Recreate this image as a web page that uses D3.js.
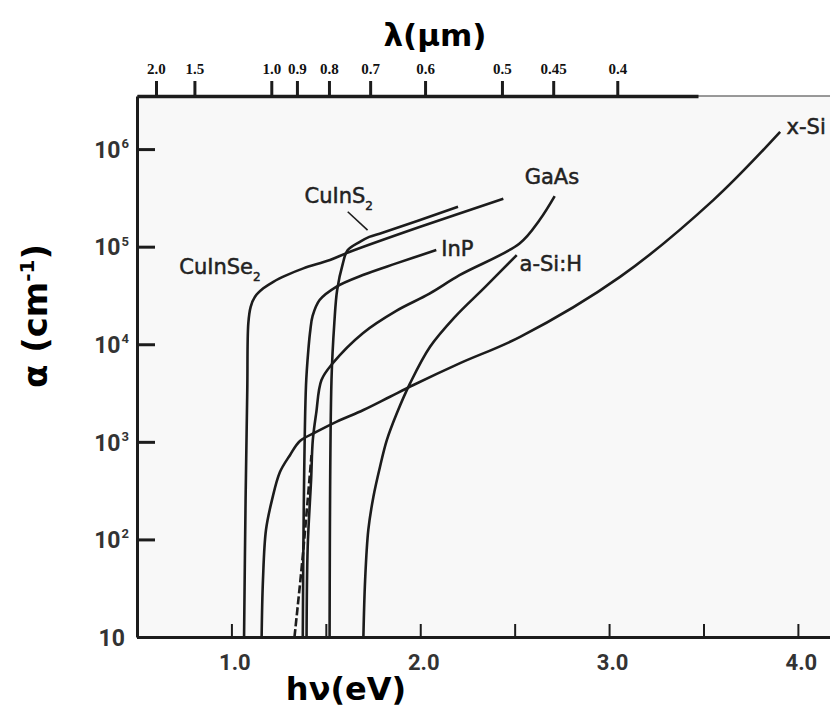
<!DOCTYPE html>
<html>
<head>
<meta charset="utf-8">
<script src="https://cdn.jsdelivr.net/npm/d3@7/dist/d3.min.js"></script>
<style>
body { margin: 0; background: #fff; }
</style>
</head>
<body>
<script>
// photon energy (eV) / absorption coefficient (cm^-1)
var cuInSe2E = [1.067, 1.075, 1.084, 1.0895, 1.102, 1.125, 1.169, 1.222, 1.293, 1.381, 1.522, 1.628, 2.00, 2.44];
var cuInSe2A = [10, 250, 3400, 16400, 24200, 30700, 37400, 43700, 51100, 59900, 73000, 88700, 160000, 310000];

var cuInS2E = [1.52, 1.53, 1.545, 1.56, 1.59, 1.615, 1.68, 1.73, 1.80, 2.20];
var cuInS2A = [10, 4300, 16500, 36000, 67000, 92000, 112000, 126000, 139000, 256000];

var inPE = [1.378, 1.383, 1.395, 1.408, 1.418, 1.430, 1.467, 1.555, 1.696, 1.873, 2.085];
var inPA = [10, 200, 3800, 9000, 14000, 19500, 28400, 38800, 51200, 67400, 92300];

var gaAsE = [1.398, 1.404, 1.422, 1.431, 1.449, 1.477, 1.537, 1.696, 1.873, 2.049, 2.208, 2.526, 2.632, 2.712];
var gaAsA = [10, 84, 406, 1040, 1970, 4300, 6400, 13000, 22000, 33000, 51000, 108000, 188000, 330000];

var gaAsDashE = [1.334, 1.376, 1.424];
var gaAsDashA = [10, 62, 730];

var aSiE = [1.699, 1.708, 1.725, 1.752, 1.787, 1.823, 1.876, 1.946, 2.052, 2.184, 2.343, 2.511];
var aSiA = [10, 38, 125, 274, 556, 1040, 1960, 3970, 9420, 19100, 38500, 82000];

var xSiE = [1.160, 1.167, 1.183, 1.215, 1.257, 1.310, 1.363, 1.452, 1.558, 1.699, 1.840, 1.964, 2.211, 2.529, 3.058, 3.552, 3.906];
var xSiA = [10, 38, 125, 254, 490, 730, 1020, 1270, 1610, 2120, 2900, 3820, 6400, 11900, 49000, 300000, 1500000];

// axes
var energyTicks = [1.0, 1.5, 2.0, 2.5, 3.0, 3.5, 4.0];
var alphaTicks = [10, 1e2, 1e3, 1e4, 1e5, 1e6];
var lambdaTicks = [2.0, 1.5, 1.0, 0.9, 0.8, 0.7, 0.6, 0.5, 0.45, 0.4];
var lambdaLabels = ['2.0', '1.5', '1.0', '0.9', '0.8', '0.7', '0.6', '0.5', '0.45', '0.4'];

// curve labels
var labelText = ['CuInSe', 'CuInS', 'InP', 'GaAs', 'a-Si:H', 'x-Si'];
var labelSub = ['2', '2', '', '', '', ''];
var labelE = [0.724, 1.387, 2.111, 2.553, 2.526, 3.940];
var labelA = [62000, 338000, 96800, 520000, 67900, 1690000];
var leaderE = [1.616, 1.721];
var leaderA = [228000, 148000];

var width = 830, height = 714;
var margin = {top: 96, right: 0, bottom: 77, left: 137};
var plotW = width - margin.left - margin.right;
var plotH = height - margin.top - margin.bottom;

var x = d3.scaleLinear().domain([0.5, 4.17]).range([0, plotW]);
// the wavelength axis on top was drawn a little off from the energy axis
var xTop = d3.scaleLinear().domain([0.518, 3.534]).range([0, 561]);
var y = d3.scaleLog().domain([10, 3.5e6]).range([plotH, 0]);

var ink = '#1c1c1c';
var numFont = 'Roboto, "Liberation Sans", sans-serif';
var titleFont = '"Comic Sans MS", "DejaVu Sans", sans-serif';
var labelFont = '"DejaVu Sans", sans-serif';

var svg = d3.select('body').append('svg')
    .attr('width', width)
    .attr('height', height);

var g = svg.append('g')
    .attr('transform', 'translate(' + margin.left + ',' + margin.top + ')');

g.append('rect')
    .attr('width', plotW)
    .attr('height', plotH)
    .attr('fill', '#f8f8f8');

g.append('clipPath').attr('id', 'plotClip')
    .append('rect')
    .attr('width', plotW)
    .attr('height', plotH);

// thin frame line along the top
g.append('line')
    .attr('x1', 0).attr('x2', plotW)
    .attr('y1', 0).attr('y2', 0)
    .attr('stroke', '#777')
    .attr('stroke-width', 1.5);

var series = [
    {name: 'CuInSe2', e: cuInSe2E, a: cuInSe2A},
    {name: 'CuInS2', e: cuInS2E, a: cuInS2A},
    {name: 'InP', e: inPE, a: inPA},
    {name: 'GaAs', e: gaAsE, a: gaAsA},
    {name: 'GaAs-dash', e: gaAsDashE, a: gaAsDashA, dash: '8,3'},
    {name: 'a-Si:H', e: aSiE, a: aSiA},
    {name: 'x-Si', e: xSiE, a: xSiA}
];

var line = d3.line()
    .x(function(d) { return x(d[0]); })
    .y(function(d) { return y(d[1]); })
    .curve(d3.curveCatmullRom.alpha(0.5));

g.append('g')
    .attr('clip-path', 'url(#plotClip)')
    .selectAll('path.curve')
    .data(series)
    .enter()
    .append('path')
    .classed('curve', true)
    .attr('d', function(s) { return line(d3.zip(s.e, s.a)); })
    .attr('fill', 'none')
    .attr('stroke', ink)
    .attr('stroke-width', 2.6)
    .attr('stroke-dasharray', function(s) { return s.dash || null; });

// bottom energy axis
var xAxis = d3.axisBottom(x)
    .tickValues(energyTicks)
    .tickSizeInner(-13)
    .tickSizeOuter(0)
    .tickPadding(17)
    .tickFormat(function(d) { return d % 1 === 0 ? d.toFixed(1) : ''; });

var gx = g.append('g')
    .attr('transform', 'translate(0,' + plotH + ')')
    .call(xAxis);
gx.select('.domain').attr('stroke', ink).attr('stroke-width', 3);
gx.selectAll('.tick line').attr('stroke', ink).attr('stroke-width', 2);
gx.selectAll('.tick text')
    .attr('font-family', numFont)
    .attr('font-weight', 'bold')
    .attr('font-size', 22)
    .attr('fill', '#333')
    .attr('dx', 3);

// left alpha axis, labels drawn by hand for the superscripts
var yAxis = d3.axisLeft(y)
    .tickValues(alphaTicks)
    .tickSizeInner(-18)
    .tickSizeOuter(0)
    .tickFormat('');

var gy = g.append('g').call(yAxis);
gy.select('.domain').attr('stroke', ink).attr('stroke-width', 3);
gy.selectAll('.tick line').attr('stroke', ink).attr('stroke-width', 3);

gy.selectAll('.tick').each(function(d)
{
    var exp = Math.round(Math.log10(d));
    var t = d3.select(this).append('text')
        .attr('font-family', numFont)
        .attr('font-weight', 'bold')
        .attr('font-size', 23)
        .attr('fill', '#333')
        .attr('text-anchor', 'end')
        .attr('dy', '0.36em');
    if(exp === 1)
    {
        t.attr('x', -12).text('10');
    }
    else
    {
        t.attr('x', -8);
        t.append('tspan').text('10');
        t.append('tspan')
            .attr('font-size', 13)
            .attr('dy', '-0.75em')
            .attr('dx', 1)
            .text(exp);
    }
});

// top wavelength axis
var xAxisTop = d3.axisTop(xTop)
    .tickValues(lambdaTicks.map(function(l) { return 1.24 / l; }))
    .tickSizeInner(15)
    .tickSizeOuter(0)
    .tickPadding(7)
    .tickFormat(function(d, i) { return lambdaLabels[i]; });

var gt = g.append('g').call(xAxisTop);
gt.select('.domain').attr('stroke', ink).attr('stroke-width', 3.5);
gt.selectAll('.tick line').attr('stroke', ink).attr('stroke-width', 3);
gt.selectAll('.tick text')
    .attr('font-family', '"Liberation Serif", serif')
    .attr('font-weight', 'bold')
    .attr('font-size', 15)
    .attr('fill', '#111');

// curve labels
var labels = g.selectAll('text.curve-label')
    .data(labelText)
    .enter()
    .append('text')
    .classed('curve-label', true)
    .attr('x', function(d, i) { return x(labelE[i]); })
    .attr('y', function(d, i) { return y(labelA[i]); })
    .attr('dy', '0.36em')
    .attr('font-family', labelFont)
    .attr('font-size', 21)
    .attr('fill', '#222')
    .attr('stroke', '#222')
    .attr('stroke-width', 0.5)
    .text(function(d) { return d; });

labels.filter(function(d, i) { return labelSub[i]; })
    .append('tspan')
    .attr('font-size', 12)
    .attr('dy', 7)
    .text(function(d) { return labelSub[labelText.indexOf(d)]; });

g.append('line')
    .attr('x1', x(leaderE[0])).attr('y1', y(leaderA[0]))
    .attr('x2', x(leaderE[1])).attr('y2', y(leaderA[1]))
    .attr('stroke', ink)
    .attr('stroke-width', 1.6);

// axis titles
svg.append('text')
    .attr('x', 435).attr('y', 46)
    .attr('text-anchor', 'middle')
    .attr('font-family', titleFont)
    .attr('font-weight', 'bold')
    .attr('font-size', 31)
    .attr('fill', '#000')
    .text('λ(µm)');

svg.append('text')
    .attr('x', 346).attr('y', 700)
    .attr('text-anchor', 'middle')
    .attr('font-family', titleFont)
    .attr('font-weight', 'bold')
    .attr('font-size', 32)
    .attr('fill', '#000')
    .text('hν(eV)');

var yTitle = svg.append('text')
    .attr('transform', 'translate(47,316) rotate(-90)')
    .attr('text-anchor', 'middle')
    .attr('font-family', titleFont)
    .attr('font-weight', 'bold')
    .attr('font-size', 34)
    .attr('fill', '#000');
yTitle.append('tspan').text('α (cm');
yTitle.append('tspan').attr('font-size', 20).attr('dy', -13).text('-1');
yTitle.append('tspan').attr('dy', 13).text(')');
</script>
</body>
</html>
